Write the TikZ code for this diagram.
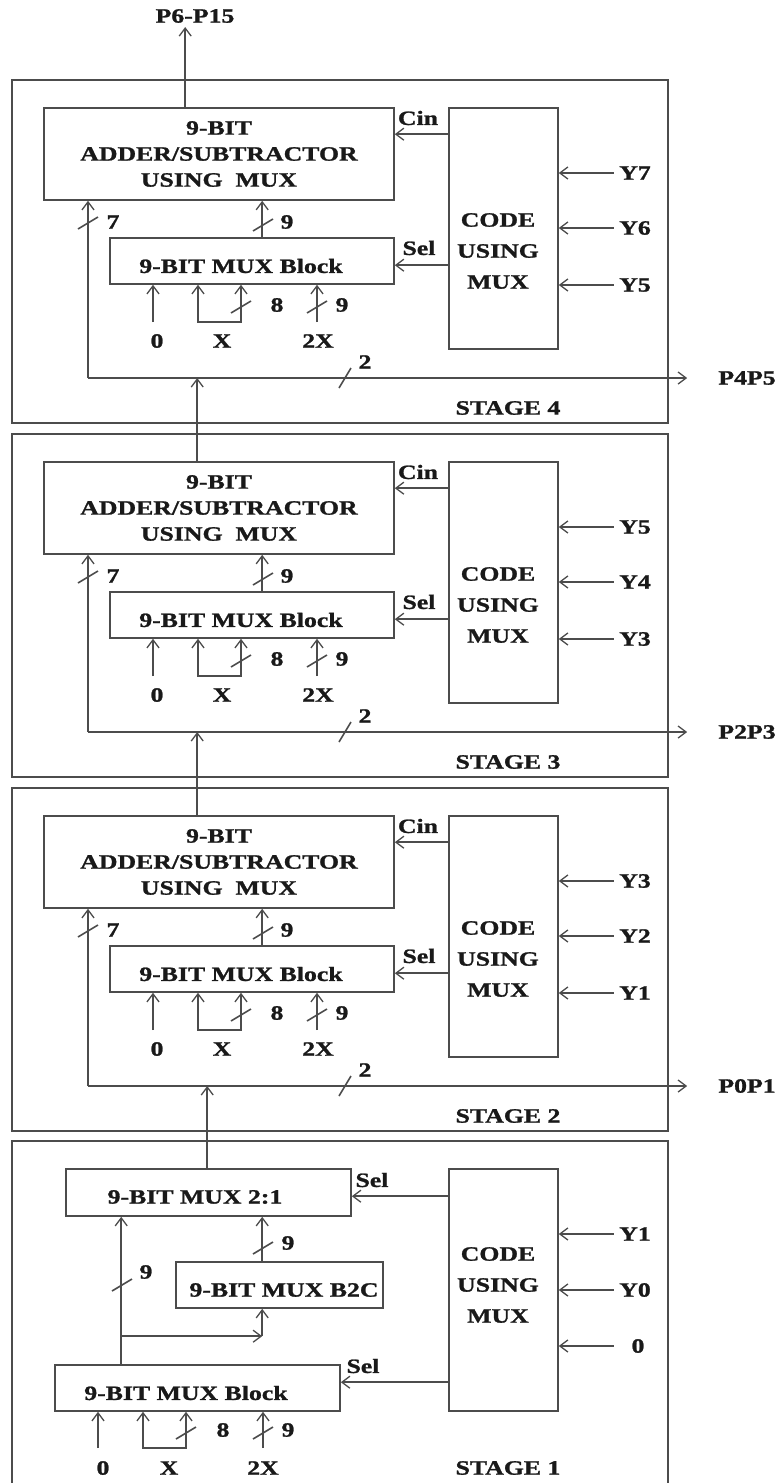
\documentclass[tikz,border=0pt]{standalone}
\usepackage{fontspec}
\setmainfont{Liberation Serif}[FakeStretch=1.27,FakeBold=1.2]
\usetikzlibrary{arrows.meta,calc}
\tikzset{
  ln/.style={draw=black!70, line width=1.6pt},
  frm/.style={draw=black!70, line width=2.2pt, inner sep=0pt},
  blk/.style={draw=black!70, line width=1.6pt, inner sep=0pt},
  arr/.style={ln, -{Straight Barb[length=8pt,width=12pt,line width=1.3pt]}},
  arrtwo/.style={ln, {Straight Barb[length=8pt,width=12pt,line width=1.3pt]}-{Straight Barb[length=8pt,width=12pt,line width=1.3pt]}},
  txt/.style={font=\bfseries\fontsize{20.3}{26}\selectfont, inner sep=0pt, text=black!90},
}
\newcommand\myslash[1]{\draw[ln] ($(#1)+(-10,6)$) -- ($(#1)+(10,-6)$);}
\newcommand\mysteep[1]{\draw[ln] ($(#1)+(-6,10)$) -- ($(#1)+(6,-10)$);}
\begin{document}
\begin{tikzpicture}[x=1pt,y=-1pt]
\useasboundingbox (0,0) rectangle (779,1483);

% ---------- top output ----------
\node[txt] (p615) at (195,16) {P6-P15};

% ---------- stages 4, 3, 2 ----------
\foreach \s/\d/\ya/\yb/\yc/\po in {4/0/Y7/Y6/Y5/P4P5, 3/354/Y5/Y4/Y3/P2P3, 2/708/Y3/Y2/Y1/P0P1} {
  \node[frm, minimum width=656pt, minimum height=343pt] (frame\s) at (340,251.5+\d) {};
  \node[blk, txt, align=center, minimum width=350pt, minimum height=92pt] (add\s) at (219,154+\d)
     {9-BIT\\ADDER/SUBTRACTOR\\USING~~MUX};
  \node[blk, minimum width=284pt, minimum height=46pt] (mux\s) at (252,261+\d) {};
  \node[txt] (muxt\s) at (241,266+\d) {9-BIT MUX Block};
  \node[blk, minimum width=109pt, minimum height=241pt] (code\s) at (503.5,228.5+\d) {};
  \node[txt, align=center] (codet\s) at (498,251+\d) {CODE\\[5pt]USING\\[5pt]MUX};
  % Cin and Sel
  \draw[arr] ($(code\s.north west)+(0,27)$) coordinate (cinA\s) -- (cinA\s -| add\s.east);
  \node[txt] (cin\s) at (418,118+\d) {Cin};
  \draw[arr] ($(code\s.north west)+(0,158)$) coordinate (selA\s) -- (selA\s -| mux\s.east);
  \node[txt] (sel\s) at (419,248+\d) {Sel};
  % Y inputs
  \node[txt] (ya\s) at (635,173+\d) {\ya};
  \node[txt] (yb\s) at (635,228+\d) {\yb};
  \node[txt] (yc\s) at (635,285+\d) {\yc};
  \draw[arr] ($(ya\s.west -| code\s.east)+(55,0)$) -- (ya\s.west -| code\s.east);
  \draw[arr] ($(yb\s.west -| code\s.east)+(55,0)$) -- (yb\s.west -| code\s.east);
  \draw[arr] ($(yc\s.west -| code\s.east)+(55,0)$) -- (yc\s.west -| code\s.east);
  % mux -> adder
  \draw[arr] ($(mux\s.north west)+(153,0)$) coordinate (mo\s) -- (mo\s |- add\s.south);
  \myslash{263,225+\d}
  \node[txt] (nine\s) at (287,222+\d) {9};
  % bus
  \coordinate (bl\s) at (88,378+\d);
  \node[txt] (po\s) at (747,378+\d) {\po};
  \draw[arr] (bl\s) -- ($(bl\s -| po\s.west)+(-31,0)$);
  \draw[arr] (bl\s) -- (bl\s |- add\s.south);
  \myslash{88,223+\d}
  \node[txt] (seven\s) at (113,222+\d) {7};
  \mysteep{345,378+\d}
  \node[txt] (two\s) at (365,362+\d) {2};
  % inputs to MUX block
  \coordinate (izero\s) at (153,322+\d);
  \draw[arr] (izero\s) -- (izero\s |- mux\s.south);
  \node[txt] (lzero\s) at (157,341+\d) {0};
  \coordinate (ixa\s) at (198,322+\d);
  \coordinate (ixb\s) at (241,322+\d);
  \draw[arrtwo] (ixa\s |- mux\s.south) -- (ixa\s) -- (ixb\s) -- (ixb\s |- mux\s.south);
  \myslash{241,307+\d}
  \node[txt] (eight\s) at (277,305+\d) {8};
  \node[txt] (lx\s) at (222,341+\d) {X};
  \coordinate (itwo\s) at (317,322+\d);
  \draw[arr] (itwo\s) -- (itwo\s |- mux\s.south);
  \myslash{317,307+\d}
  \node[txt] (ninein\s) at (342,305+\d) {9};
  \node[txt] (ltwox\s) at (318,341+\d) {2X};
  % stage label
  \node[txt] (st\s) at (508,408+\d) {STAGE \s};
}

% ---------- stage 1 ----------
\node[frm, minimum width=656pt, minimum height=354pt] (frame1) at (340,1318) {};
\node[blk, minimum width=285pt, minimum height=47pt] (mux21) at (208.5,1192.5) {};
\node[txt] (mux21t) at (195,1197) {9-BIT MUX 2:1};
\node[blk, minimum width=207pt, minimum height=46pt] (b2c) at (279.5,1285) {};
\node[txt] (b2ct) at (284,1290) {9-BIT MUX B2C};
\node[blk, minimum width=285pt, minimum height=46pt] (mux1) at (197.5,1388) {};
\node[txt] (mux1t) at (186,1393) {9-BIT MUX Block};
\node[blk, minimum width=109pt, minimum height=242pt] (code1) at (503.5,1290) {};
\node[txt, align=center] (code1t) at (498,1285) {CODE\\[5pt]USING\\[5pt]MUX};
% Sel lines
\draw[arr] ($(code1.north west)+(0,28)$) coordinate (selB) -- (selB -| mux21.east);
\node[txt] (selb1) at (372,1180) {Sel};
\draw[arr] ($(code1.north west)+(0,214)$) coordinate (selC) -- (selC -| mux1.east);
\node[txt] (selc1) at (363,1366) {Sel};
% inputs to code
\node[txt] (yone1) at (635,1234) {Y1};
\node[txt] (yzero1) at (635,1290) {Y0};
\node[txt] (zero1) at (638,1346) {0};
\draw[arr] ($(yone1.west -| code1.east)+(55,0)$) -- (yone1.west -| code1.east);
\draw[arr] ($(yzero1.west -| code1.east)+(55,0)$) -- (yzero1.west -| code1.east);
\draw[arr] ($(zero1.west -| code1.east)+(55,0)$) -- (zero1.west -| code1.east);
% B2C -> MUX 2:1
\draw[arr] ($(b2c.north west)+(87,0)$) coordinate (bo) -- (bo |- mux21.south);
\myslash{263,1248}
\node[txt] (nineb) at (288,1243) {9};
% MUX block -> MUX 2:1
\draw[arr] ($(mux1.north west)+(67,0)$) coordinate (mone) -- (mone |- mux21.south);
\myslash{122,1285}
\node[txt] (ninem) at (146,1272) {9};
% branch to B2C
\coordinate (br) at ($(mone)+(0,-28)$);
\draw[arr] (br) -- (br -| bo);
\draw[arr] (br -| bo) -- (bo |- b2c.south);
% inputs to stage 1 MUX block
\coordinate (jzero) at (98,1448);
\draw[arr] (jzero) -- (jzero |- mux1.south);
\node[txt] (kzero) at (103,1468) {0};
\coordinate (jxa) at (143,1448);
\coordinate (jxb) at (186,1448);
\draw[arrtwo] (jxa |- mux1.south) -- (jxa) -- (jxb) -- (jxb |- mux1.south);
\myslash{186,1433}
\node[txt] (keight) at (223,1430) {8};
\node[txt] (kx) at (169,1468) {X};
\coordinate (jtwo) at (263,1448);
\draw[arr] (jtwo) -- (jtwo |- mux1.south);
\myslash{263,1433}
\node[txt] (knine) at (288,1430) {9};
\node[txt] (ktwox) at (263,1468) {2X};
\node[txt] (st1) at (508,1468) {STAGE 1};

% ---------- vertical links between stages ----------
\draw[arr] ($(add4.north west)+(142,0)$) coordinate (ofour) -- ($(ofour |- p615.south)+(0,4)$);
\draw[arr] ($(add3.north west)+(154,0)$) coordinate (othree) -- (othree |- bl4);
\draw[arr] ($(add2.north west)+(154,0)$) coordinate (otwo) -- (otwo |- bl3);
\draw[arr] ($(mux21.north west)+(142,0)$) coordinate (oone) -- (oone |- bl2);
\end{tikzpicture}
\end{document}
